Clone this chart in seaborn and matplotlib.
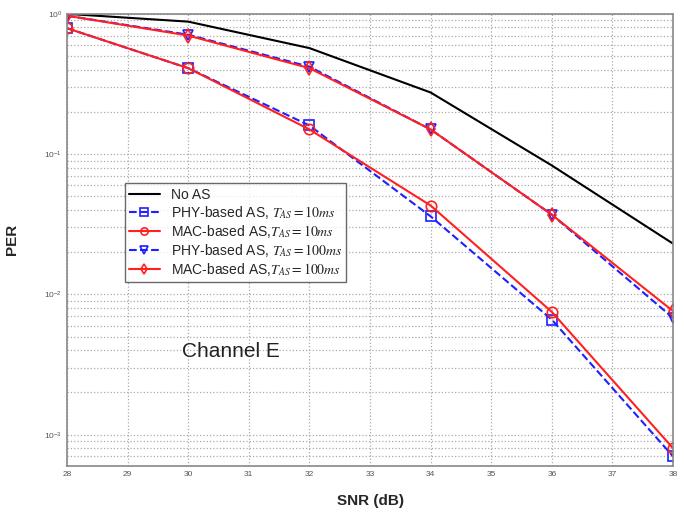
import matplotlib
matplotlib.use("Agg")
import matplotlib.pyplot as plt
import numpy as np
import pandas as pd
import seaborn as sns

snr = [28, 30, 32, 34, 36, 38]
per_no_as = [1.0, 0.88, 0.57, 0.275, 0.083, 0.023]
per_phy_10 = [0.79, 0.41, 0.16, 0.036, 0.0066, 0.00070]
per_mac_10 = [0.79, 0.41, 0.15, 0.043, 0.0075, 0.00080]
per_phy_100 = [0.97, 0.71, 0.42, 0.15, 0.037, 0.0068]
per_mac_100 = [0.97, 0.70, 0.41, 0.15, 0.037, 0.0076]

labels = [
    "No AS",
    r"PHY-based AS, $T_{AS}=10ms$",
    r"MAC-based AS,$T_{AS}=10ms$",
    r"PHY-based AS, $T_{AS}=100ms$",
    r"MAC-based AS,$T_{AS}=100ms$",
]
series = [per_no_as, per_phy_10, per_mac_10, per_phy_100, per_mac_100]
colors = ["black", "#1f1fff", "#ff2020", "#1f1fff", "#ff2020"]
styles = ["-", "--", "-", "--", "-"]
markers = [None, "s", "o", "v", "d"]

sns.set_style("white")
plt.rcParams["font.family"] = ["Liberation Sans", "DejaVu Sans"]
plt.rcParams["mathtext.fontset"] = "stix"

fig = plt.figure(figsize=(6.84, 5.13), dpi=100)
ax = fig.add_axes([0.098, 0.092, 0.886, 0.881])

for lab, vals, c, ls, m in zip(labels, series, colors, styles, markers):
    df = pd.DataFrame({"SNR": snr, "PER": vals})
    sns.lineplot(
        data=df, x="SNR", y="PER", ax=ax, color=c, linestyle=ls,
        marker=m, markersize=7.5, markerfacecolor="none", markeredgecolor=c,
        markeredgewidth=1.2, linewidth=1.5, label=lab,
    )

ax.set_yscale("log")
ax.set_xlim(28, 38)
ax.set_ylim(6e-4, 1.0)
ax.set_xticks(range(28, 39))
ax.set_yticks([1e-3, 1e-2, 1e-1, 1e0])
ax.tick_params(axis="both", labelsize=6, colors="#555555", direction="in", length=4)
ax.tick_params(axis="y", which="minor", direction="in", length=2, colors="#888888")
ax.grid(True, which="major", linestyle=":", color="#aaaaaa", linewidth=0.9)
ax.grid(True, which="minor", axis="y", linestyle=":", color="#aaaaaa", linewidth=0.9)
for s in ax.spines.values():
    s.set_color("#888888")
    s.set_linewidth(1.2)

ax.set_xlabel("SNR (dB)", fontsize=11, fontweight="bold", labelpad=12)
ax.set_ylabel("PER", fontsize=11, fontweight="bold", labelpad=18)
ax.text(29.9, 0.0036, "Channel E", fontsize=15, color="#222222")

leg = ax.legend(loc="upper left", bbox_to_anchor=(0.084, 0.64), fontsize=10,
                frameon=True, fancybox=False, edgecolor="#444444",
                borderpad=0.3, labelspacing=0.15, handlelength=2.2,
                markerscale=0.7)
leg.get_frame().set_linewidth(1.0)

fig.savefig("out.png", dpi=100)
